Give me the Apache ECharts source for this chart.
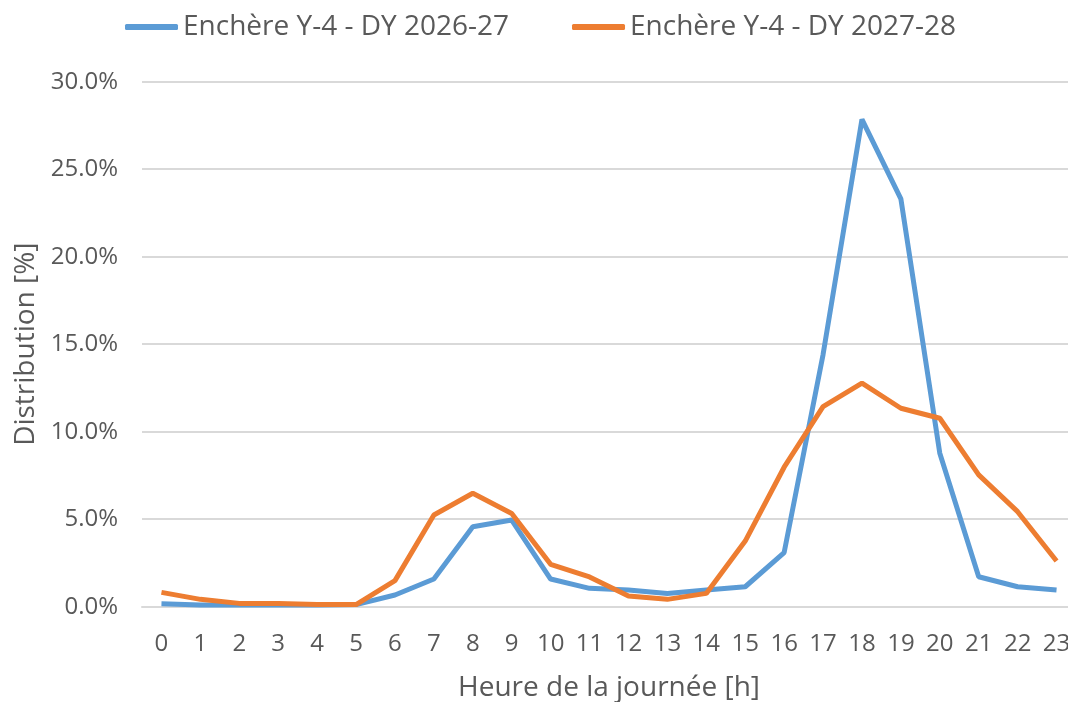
<!DOCTYPE html>
<html>
<head>
<meta charset="utf-8">
<script src="https://cdn.jsdelivr.net/npm/echarts@6/dist/echarts.min.js"></script>
<style>
html,body{margin:0;padding:0;background:#fff;}
#chart{width:1068px;height:702px;}
</style>
</head>
<body>
<div id="chart"></div>
<script>
const hours = ['0','1','2','3','4','5','6','7','8','9','10','11','12','13','14','15','16','17','18','19','20','21','22','23'];
const seriesNames = ['Enchère Y-4 - DY 2026-27', 'Enchère Y-4 - DY 2027-28'];
const dy2026 = [0.17, 0.10, 0.10, 0.10, 0.10, 0.12, 0.67, 1.58, 4.57, 4.95, 1.58, 1.05, 0.95, 0.76, 0.95, 1.14, 3.09, 14.4, 27.85, 23.3, 8.77, 1.71, 1.14, 0.95];
const dy2027 = [0.82, 0.42, 0.19, 0.18, 0.12, 0.12, 1.49, 5.24, 6.48, 5.33, 2.42, 1.70, 0.61, 0.42, 0.76, 3.75, 7.97, 11.43, 12.77, 11.34, 10.77, 7.53, 5.43, 2.61];
const yTicks = {min: 0, max: 30, interval: 5};
const xTitle = 'Heure de la journée [h]';
const yTitle = 'Distribution [%]';

const FONT = "'Open Sans', 'Noto Sans', sans-serif";
const TXT = '#595959';
const chart = echarts.init(document.getElementById('chart'), null, {renderer: 'canvas'});
chart.setOption({
  animation: false,
  backgroundColor: '#fff',
  color: ['#5B9BD5', '#ED7D31'],
  legend: {
    top: 8,
    left: 120,
    itemWidth: 53,
    itemHeight: 6,
    itemGap: 63,
    icon: 'roundRect',
    textStyle: {fontFamily: FONT, fontSize: 28, color: TXT},
    data: seriesNames
  },
  grid: {left: 142, top: 81.7, bottom: 95.3, right: -8, containLabel: false, outerBoundsMode: 'none'},
  xAxis: {
    type: 'category',
    data: hours,
    boundaryGap: true,
    axisLine: {show: true, lineStyle: {color: '#D9D9D9', width: 2}},
    axisTick: {show: false},
    axisLabel: {fontFamily: FONT, fontSize: 24, color: TXT, margin: 25, interval: 0},
    name: xTitle,
    nameLocation: 'middle',
    nameGap: 67,
    nameTextStyle: {fontFamily: FONT, fontSize: 28, color: TXT}
  },
  yAxis: {
    type: 'value',
    min: yTicks.min,
    max: yTicks.max,
    interval: yTicks.interval,
    axisLine: {show: false},
    axisTick: {show: false},
    splitLine: {lineStyle: {color: '#D9D9D9', width: 2}},
    axisLabel: {fontFamily: FONT, fontSize: 24, color: TXT, margin: 24, formatter: v => v.toFixed(1) + '%'},
    name: yTitle,
    nameLocation: 'middle',
    nameGap: 95,
    nameTextStyle: {fontFamily: FONT, fontSize: 28, color: TXT}
  },
  series: [
    {name: seriesNames[0], type: 'line', data: dy2026, showSymbol: false, lineStyle: {width: 5, color: '#5B9BD5'}, itemStyle: {color: '#5B9BD5'}},
    {name: seriesNames[1], type: 'line', data: dy2027, showSymbol: false, lineStyle: {width: 5, color: '#ED7D31'}, itemStyle: {color: '#ED7D31'}}
  ]
});
</script>
</body>
</html>
